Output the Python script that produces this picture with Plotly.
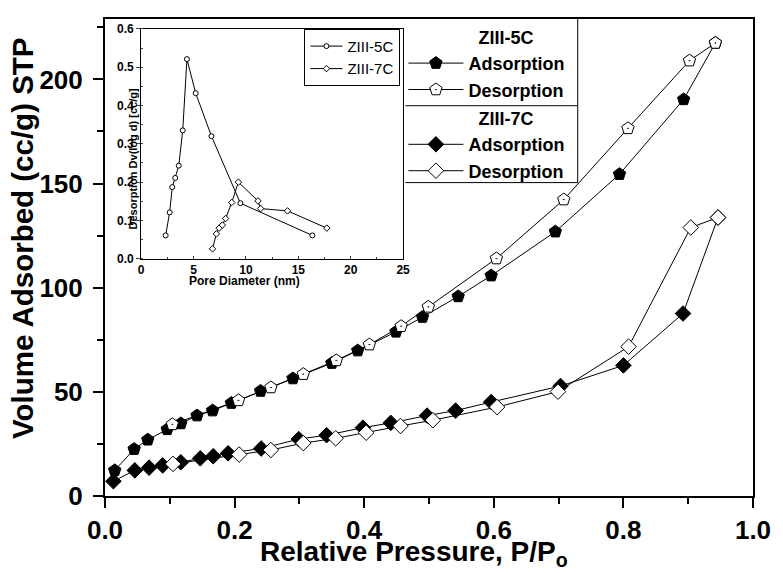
import plotly.graph_objects as go

# ---------------- Main isotherm data ----------------
p_ads_5c = [0.015, 0.045, 0.066, 0.096, 0.117, 0.142, 0.166, 0.195, 0.240, 0.290,
            0.350, 0.390, 0.449, 0.490, 0.545, 0.596, 0.695, 0.794, 0.893, 0.942]
v_ads_5c = [12.3, 22.5, 27.0, 32.0, 34.8, 38.6, 41.0, 44.6, 50.4, 56.4,
            63.8, 69.8, 78.8, 85.9, 95.8, 105.8, 126.9, 154.5, 190.4, 217.5]

p_des_5c = [0.942, 0.902, 0.807, 0.708, 0.604, 0.499, 0.457, 0.408, 0.357, 0.306,
            0.256, 0.206, 0.104]
v_des_5c = [217.5, 209.0, 176.5, 142.3, 114.0, 90.8, 81.5, 72.7, 65.1, 58.5,
            52.1, 45.9, 34.4]

p_ads_7c = [0.013, 0.046, 0.068, 0.089, 0.117, 0.147, 0.167, 0.190, 0.241, 0.299,
            0.342, 0.398, 0.441, 0.497, 0.541, 0.596, 0.703, 0.800, 0.892, 0.946]
v_ads_7c = [7.1, 12.3, 13.6, 14.7, 16.2, 18.1, 19.1, 20.5, 22.8, 27.3,
            29.2, 32.8, 35.1, 38.6, 41.0, 45.1, 52.8, 62.7, 87.6, 133.7]

p_des_7c = [0.946, 0.904, 0.808, 0.699, 0.605, 0.506, 0.456, 0.403, 0.356, 0.306,
            0.256, 0.207, 0.105]
v_des_7c = [133.7, 128.9, 71.7, 50.1, 42.7, 36.4, 33.6, 30.4, 27.7, 25.4,
            22.1, 19.9, 15.4]

# ---------------- Inset pore size distribution ----------------
d_5c = [2.34, 2.72, 2.97, 3.25, 3.59, 3.97, 4.37, 5.21, 6.71, 9.47, 16.34]
dv_5c = [0.061, 0.121, 0.187, 0.211, 0.243, 0.335, 0.521, 0.432, 0.320, 0.145, 0.061]
d_7c = [6.81, 7.18, 7.44, 7.75, 8.06, 8.65, 9.28, 11.15, 11.40, 13.97, 17.72]
dv_7c = [0.026, 0.065, 0.080, 0.088, 0.105, 0.147, 0.200, 0.151, 0.131, 0.125, 0.080]

FONT = "Liberation Sans, Arial, Helvetica, sans-serif"
W, H = 783, 573
ML, MR, MT, MB = 105, 20, 12, 77
PW, PH = W - ML - MR, H - MT - MB
NB = "\u00a0"


def px_x(px):
    return (px - ML) / PW


def px_y(py):
    return (H - MB - py) / PH


fig = go.Figure()

line_style = dict(color="black", width=1)

fig.add_trace(go.Scatter(
    x=p_ads_5c, y=v_ads_5c, mode="lines+markers", name="Adsorption",
    line=line_style, legendgroup="5c", legendgrouptitle_text=NB * 14 + "ZIII-5C",
    marker=dict(symbol="pentagon", size=13, color="black", line=dict(color="black", width=1)),
    legend="legend"))
fig.add_trace(go.Scatter(
    x=p_des_5c, y=v_des_5c, mode="lines+markers", name="Desorption",
    line=line_style, legendgroup="5c",
    marker=dict(symbol="pentagon-dot", size=13, color="white", line=dict(color="black", width=1)),
    legend="legend"))
fig.add_trace(go.Scatter(
    x=p_ads_7c, y=v_ads_7c, mode="lines+markers", name="Adsorption",
    line=line_style, legendgroup="7c", legendgrouptitle_text=NB * 14 + "ZIII-7C",
    marker=dict(symbol="diamond", size=12, color="black", line=dict(color="black", width=1)),
    legend="legend"))
fig.add_trace(go.Scatter(
    x=p_des_7c, y=v_des_7c, mode="lines+markers", name="Desorption",
    line=line_style, legendgroup="7c",
    marker=dict(symbol="diamond", size=12, color="white", line=dict(color="black", width=1)),
    legend="legend"))

# Inset
fig.add_trace(go.Scatter(
    x=d_5c, y=dv_5c, mode="lines+markers", name="ZIII-5C", xaxis="x2", yaxis="y2",
    line=line_style, legend="legend2",
    marker=dict(symbol="circle", size=5, color="white", line=dict(color="black", width=1))))
fig.add_trace(go.Scatter(
    x=d_7c, y=dv_7c, mode="lines+markers", name="ZIII-7C", xaxis="x2", yaxis="y2",
    line=line_style, legend="legend2",
    marker=dict(symbol="diamond", size=5, color="white", line=dict(color="black", width=1))))

big_tick = dict(family=FONT, size=26, color="black", weight="bold")
small_tick = dict(family=FONT, size=12, color="black", weight="bold")

fig.update_layout(
    width=W, height=H,
    margin=dict(l=ML, r=MR, t=MT, b=MB),
    paper_bgcolor="white", plot_bgcolor="white",
    font=dict(family=FONT, color="black"),
    xaxis=dict(
        range=[0, 1.0], domain=[0, 1], tickmode="linear", tick0=0, dtick=0.2,
        tickformat=".1f", ticks="outside", ticklen=10, tickwidth=2, tickcolor="black",
        minor=dict(dtick=0.1, ticks="outside", ticklen=6, tickwidth=2, tickcolor="black"),
        showline=True, linecolor="black", linewidth=2, mirror=True,
        showgrid=False, zeroline=False, tickfont=big_tick),
    yaxis=dict(
        range=[0, 229], domain=[0, 1], tickmode="linear", tick0=0, dtick=50,
        ticks="outside", ticklen=10, tickwidth=2, tickcolor="black",
        minor=dict(dtick=25, ticks="outside", ticklen=6, tickwidth=2, tickcolor="black"),
        showline=True, linecolor="black", linewidth=2, mirror=True,
        showgrid=False, zeroline=False, tickfont=big_tick, ticklabelstandoff=5),
    xaxis2=dict(
        range=[0, 25], domain=[px_x(141.7), px_x(407.7)], anchor="y2",
        tickmode="linear", tick0=0, dtick=5, ticks="inside", ticklen=3, tickwidth=1,
        minor=dict(dtick=2.5, ticks="inside", ticklen=2, tickwidth=1),
        showline=True, linecolor="black", linewidth=1, mirror=True,
        showgrid=False, zeroline=False, tickfont=small_tick),
    yaxis2=dict(
        range=[0, 0.6], domain=[px_y(255.3), px_y(22)], anchor="x2",
        tickmode="linear", tick0=0, dtick=0.1, tickformat=".1f",
        ticks="outside", ticklen=4, tickwidth=1,
        minor=dict(dtick=0.05, ticks="inside", ticklen=2, tickwidth=1),
        showline=True, linecolor="black", linewidth=1, mirror=True,
        showgrid=False, zeroline=False, tickfont=small_tick),
    legend=dict(
        x=px_x(408), y=px_y(11.5), xanchor="left", yanchor="top",
        bgcolor="rgba(0,0,0,0)", borderwidth=0, tracegroupgap=2,
        font=dict(family=FONT, size=18, color="black", weight="bold"),
        grouptitlefont=dict(family=FONT, size=18, color="black", weight="bold"),
        itemwidth=55),
    legend2=dict(
        x=px_x(405), y=px_y(22), xanchor="right", yanchor="top",
        bgcolor="white", bordercolor="black", borderwidth=1,
        font=dict(family=FONT, size=15, color="black"), itemwidth=32),
    showlegend=True,
)

# Axis titles as annotations
fig.add_annotation(
    text="Volume Adsorbed (cc/g) STP", xref="paper", yref="paper",
    x=px_x(22), y=px_y(234), xanchor="center", yanchor="middle", textangle=-90,
    showarrow=False, font=dict(family=FONT, size=29.5, color="black", weight="bold"))
fig.add_annotation(
    text="Relative Pressure, P/P<sub>o</sub>", xref="paper", yref="paper",
    x=px_x(419), y=px_y(535), xanchor="center", yanchor="top",
    showarrow=False, font=dict(family=FONT, size=28, color="black", weight="bold"))
fig.add_annotation(
    text="Desorption Dv(log d) [cc/g]", xref="paper", yref="paper",
    x=px_x(133), y=px_y(154), xanchor="center", yanchor="middle", textangle=-90,
    showarrow=False, font=dict(family=FONT, size=11, color="black", weight="bold"))
fig.add_annotation(
    text="Pore Diameter (nm)", xref="paper", yref="paper",
    x=px_x(247), y=px_y(278), xanchor="center", yanchor="middle",
    showarrow=False, font=dict(family=FONT, size=12, color="black", weight="bold"))

# Main legend frame lines
frame = dict(color="black", width=1)
fig.add_shape(type="line", xref="paper", yref="paper",
              x0=px_x(585), x1=px_x(585), y0=px_y(12), y1=px_y(178), line=frame)
fig.add_shape(type="line", xref="paper", yref="paper",
              x0=px_x(410), x1=px_x(585), y0=px_y(178), y1=px_y(178), line=frame)
fig.add_shape(type="line", xref="paper", yref="paper",
              x0=px_x(410), x1=px_x(585), y0=px_y(100), y1=px_y(100), line=frame)

fig.write_html("out.html")
